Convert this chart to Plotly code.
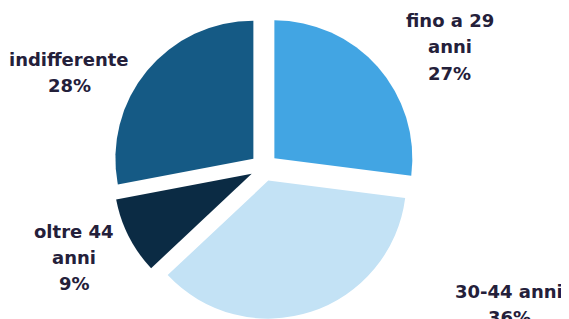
import plotly.graph_objects as go

categories = ["fino a 29 anni", "30-44 anni", "oltre 44 anni", "indifferente"]
values = [27, 36, 9, 28]
label_lines = [["fino a 29", "anni", "27%"], ["30-44 anni", "36%"], ["oltre 44", "anni", "9%"], ["indifferente", "28%"]]
colors = ["#42A5E3", "#C3E2F5", "#0B2B44", "#155A85"]

W, H = 569, 319
OFF = 8  # page body margin offset
cx, cy = 264 - OFF, 167.5 - OFF
R = 138
pull = 0.10
full = R * (1 + pull)

fig = go.Figure(go.Pie(
    labels=categories, values=values, sort=False, direction="clockwise", rotation=0,
    marker=dict(colors=colors, line=dict(width=0)),
    pull=[pull] * 4, textinfo="none", hoverinfo="label+percent", showlegend=False,
    domain=dict(x=[(cx - full) / W, (cx + full) / W],
                y=[max(0, (H - cy - full) / H), min(1, (H - cy + full) / H)]),
))

# label block: (center x, y of first line) in pixels
label_pos = [(450, 21), (509, 291), (74, 231), (69, 60)]
line_gap = 26
for lines, (px, py) in zip(label_lines, label_pos):
    for i, t in enumerate(lines):
        fig.add_annotation(text="<b>" + t + "</b>", x=(px - OFF) / W, y=1 - (py - OFF + i * line_gap) / H,
                           xref="paper", yref="paper", showarrow=False,
                           xanchor="center", yanchor="middle",
                           font=dict(family="DejaVu Sans", size=18, color="#24203A"))

fig.update_layout(width=W, height=H, margin=dict(l=0, r=0, t=0, b=0),
                  paper_bgcolor="white", plot_bgcolor="white")
fig.write_html("out.html")
